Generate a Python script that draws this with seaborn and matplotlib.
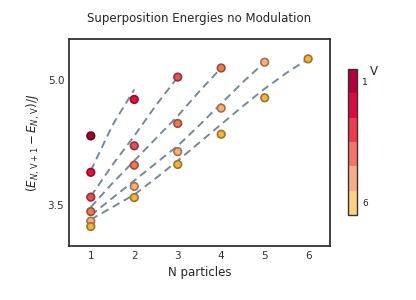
import numpy as np
import pandas as pd
import matplotlib
matplotlib.use("Agg")
import matplotlib.pyplot as plt
import matplotlib.colors as mcolors
import seaborn as sns

# point data: particle number, energy gap, V colour index
n_particles = [1, 1, 1, 1, 1, 1,
               2, 2, 2, 2, 2,
               3, 3, 3, 3,
               4, 4, 4,
               5, 5,
               6]
energy = [4.33, 3.89, 3.59, 3.416, 3.30, 3.235,
          4.77, 4.21, 3.976, 3.72, 3.585,
          5.04, 4.48, 4.14, 3.985,
          5.15, 4.665, 4.35,
          5.22, 4.79,
          5.26]
v_index = [1, 2, 3, 4, 5, 6,
           2, 3, 4, 5, 6,
           3, 4, 5, 6,
           4, 5, 6,
           5, 6,
           6]

# dashed fit curves (sampled every half particle)
fit_n = [[1, 1.5, 2],
         [1, 1.5, 2, 2.5, 3],
         [1, 1.5, 2, 2.5, 3, 3.5, 4],
         [1, 1.5, 2, 2.5, 3, 3.5, 4, 4.5, 5],
         [1, 1.5, 2, 2.5, 3, 3.5, 4, 4.5, 5, 5.5, 6]]
fit_e = [[3.91, 4.46, 4.89],
         [3.60, 3.98, 4.33, 4.70, 5.04],
         [3.47, 3.76, 4.03, 4.30, 4.57, 4.87, 5.15],
         [3.37, 3.58, 3.79, 4.00, 4.21, 4.46, 4.72, 4.98, 5.22],
         [3.32, 3.47, 3.62, 3.82, 4.03, 4.25, 4.47, 4.69, 4.90, 5.09, 5.26]]

v_labels = [1, 2, 3, 4, 5, 6]
point_colors = ['#a8002c', '#e4103e', '#e2505a', '#ec7a58', '#f7b07a', '#f0b440']
bar_colors = ['#b5003c', '#d90c40', '#ef3b50', '#f2756a', '#fbab8c', '#fdd184']

sns.set_style("white")
plt.rcParams['font.family'] = ['DejaVu Sans']

fig = plt.figure(figsize=(4.16, 3.0), dpi=100)
ax = fig.add_axes([0.166, 0.18, 0.627, 0.69])

for xs, ys in zip(fit_n, fit_e):
    sns.lineplot(x=xs, y=ys, ax=ax, color='#778899', lw=1.4,
                 linestyle=(0, (4, 2.5)), zorder=1)

df = pd.DataFrame({"N": n_particles, "E": energy, "V": v_index})
pal = dict(zip(v_labels, point_colors))
edge = [tuple(np.array(mcolors.to_rgb(pal[v])) * 0.65) for v in df["V"]]
sns.scatterplot(data=df, x="N", y="E", hue="V", palette=pal, ax=ax,
                s=30, edgecolor=edge, linewidth=1.2, legend=False, zorder=3)

ax.set_xlim(0.5, 6.5)
ax.set_ylim(3.0, 5.5)
ax.set_xticks([1, 2, 3, 4, 5, 6])
ax.set_yticks([3.5, 5.0])
ax.set_yticklabels(['3.5', '5.0'])
ax.tick_params(direction='in', labelsize=7.5, length=3, width=0.8, colors='#333333',
               labelcolor='#333333')
for s in ax.spines.values():
    s.set_color('#333333')
    s.set_linewidth(1.3)
ax.set_title("Superposition Energies no Modulation", fontsize=8.5, pad=12)
ax.set_xlabel("N particles", fontsize=8.5)
ax.set_ylabel(r"$(E_{N,\,\mathrm{V}+1} - E_{N,\,\mathrm{V}})/J$", fontsize=8.5)

# discrete colourbar for V
cmap = mcolors.ListedColormap(bar_colors)
norm = mcolors.BoundaryNorm(np.arange(0.5, 7.0, 1.0), cmap.N)
sm = matplotlib.cm.ScalarMappable(cmap=cmap, norm=norm)
cax = fig.add_axes([0.837, 0.283, 0.0216, 0.487])
cb = fig.colorbar(sm, cax=cax, ticks=[1, 6])
cax.invert_yaxis()
cax.minorticks_off()
cax.tick_params(direction='in', labelsize=6.5, length=3, width=1, colors='#222222')
cb.outline.set_edgecolor('#333333')
cb.outline.set_linewidth(1.0)
cax.text(2.4, 0.985, "V", transform=cax.transAxes, fontsize=8.5, va='center', ha='left')

fig.savefig("out.png", dpi=100)
